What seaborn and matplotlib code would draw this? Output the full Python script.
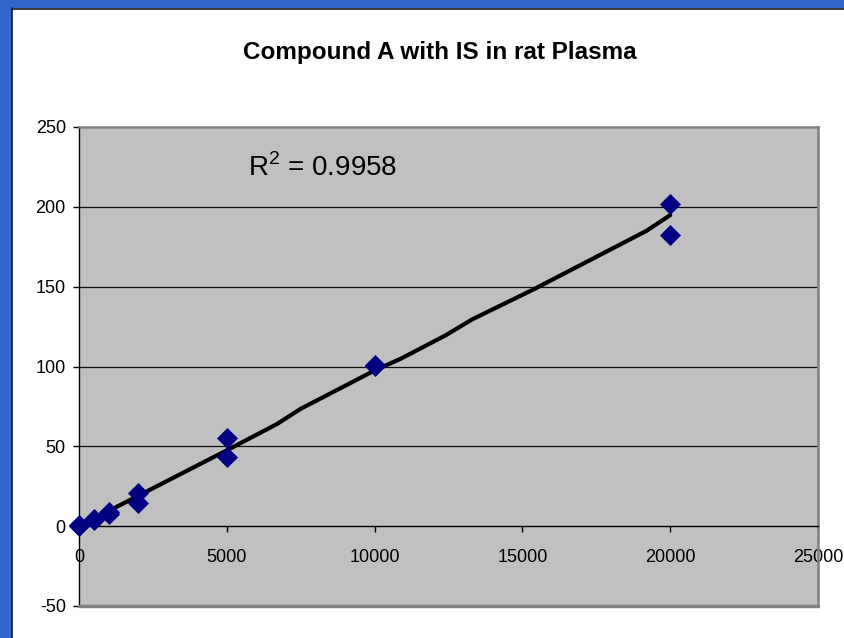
import matplotlib
matplotlib.use("Agg")
import matplotlib.pyplot as plt
import seaborn as sns
import pandas as pd
from matplotlib.patches import Rectangle

# calibration data
conc = [0, 0, 500, 500, 1000, 1000, 2000, 2000, 5000, 5000, 10000, 10000, 20000, 20000]
ratio = [0.3, 0.9, 3.8, 4.6, 7.8, 8.6, 20.6, 14.4, 55.2, 43.1, 101.2, 100.4, 201.9, 182.5]

# trendline as drawn by the spreadsheet
trend_x = [0, 2000, 5000, 6700, 7500, 10000, 10900, 12400, 13300, 15400, 19200, 20000]
trend_y = [0, 19.0, 47.5, 64.0, 73.5, 97.5, 105.0, 119.5, 129.5, 148.5, 185.0, 194.8]

title = "Compound A with IS in rat Plasma"
r2_label = "R$^2$ = 0.9958"
x_ticks = [0, 5000, 10000, 15000, 20000, 25000]
y_ticks = [-50, 0, 50, 100, 150, 200, 250]

sns.set_style("white")
plt.rcParams["font.family"] = ["Liberation Sans", "DejaVu Sans"]
plt.rcParams["axes.unicode_minus"] = False
plt.rcParams["text.color"] = "black"
plt.rcParams["xtick.color"] = "black"
plt.rcParams["ytick.color"] = "black"
plt.rcParams["mathtext.fontset"] = "custom"
plt.rcParams["mathtext.rm"] = "Liberation Sans"

pts = pd.DataFrame({"conc": conc, "ratio": ratio})
trend = pd.DataFrame({"x": trend_x, "y": trend_y})

fig = plt.figure(figsize=(8.45, 6.38), dpi=100)
fig.patch.set_facecolor("white")

# blue frame on the left and top
fig.patches.append(Rectangle((0, 0), 12 / 845, 1, transform=fig.transFigure,
                             facecolor="#3366cc", edgecolor="none", zorder=0))
fig.patches.append(Rectangle((0, 1 - 8 / 638), 1, 8 / 638, transform=fig.transFigure,
                             facecolor="#3366cc", edgecolor="none", zorder=0))
fig.add_artist(plt.Line2D([12.5 / 845, 12.5 / 845], [0, 1 - 8 / 638], color="#1a1a1a",
                          lw=1.2, transform=fig.transFigure))
fig.add_artist(plt.Line2D([12.5 / 845, 1], [1 - 8.5 / 638, 1 - 8.5 / 638], color="#1a1a1a",
                          lw=1.2, transform=fig.transFigure))

ax = fig.add_axes([79 / 845, 1 - 606 / 638, (818 - 79) / 845, (606 - 127) / 638])
ax.set_facecolor("#c0c0c0")

for v in y_ticks[2:-1]:
    ax.axhline(v, color="#111111", lw=0.9, zorder=1)

sns.lineplot(data=trend, x="x", y="y", color="black", lw=3, sort=False,
             estimator=None, ax=ax, zorder=2)
sns.scatterplot(data=pts, x="conc", y="ratio", marker="D", s=115, color="#000080",
                linewidth=0, ax=ax, zorder=3, clip_on=False)

ax.set_xlim(0, 25000)
ax.set_ylim(-50, 250)
ax.set_xticks(x_ticks)
ax.set_yticks(y_ticks)
ax.set_xlabel("")
ax.set_ylabel("")

ax.spines["bottom"].set_position(("data", 0))
ax.spines["bottom"].set_color("black")
ax.spines["bottom"].set_linewidth(1)
ax.spines["left"].set_color("black")
ax.spines["left"].set_linewidth(1)
for s in ["top", "right"]:
    ax.spines[s].set_color("#808080")
    ax.spines[s].set_linewidth(1.8)
ax.axhline(-50, color="#808080", lw=2.5, clip_on=False, zorder=4)

ax.tick_params(axis="x", direction="out", length=4.5, width=1, color="black",
               pad=12, labelsize=13, bottom=True)
ax.tick_params(axis="y", direction="out", length=4.5, width=1, color="black",
               pad=5, labelsize=13, left=True)

ax.text((323 - 79) / (818 - 79), (606 - 168) / (606 - 127), r2_label, fontsize=20,
        ha="center", va="center", transform=ax.transAxes)

fig.text(440 / 845, 1 - 53 / 638, title, fontsize=17.5, fontweight="bold",
         ha="center", va="center")

fig.savefig("out.png", dpi=100)
